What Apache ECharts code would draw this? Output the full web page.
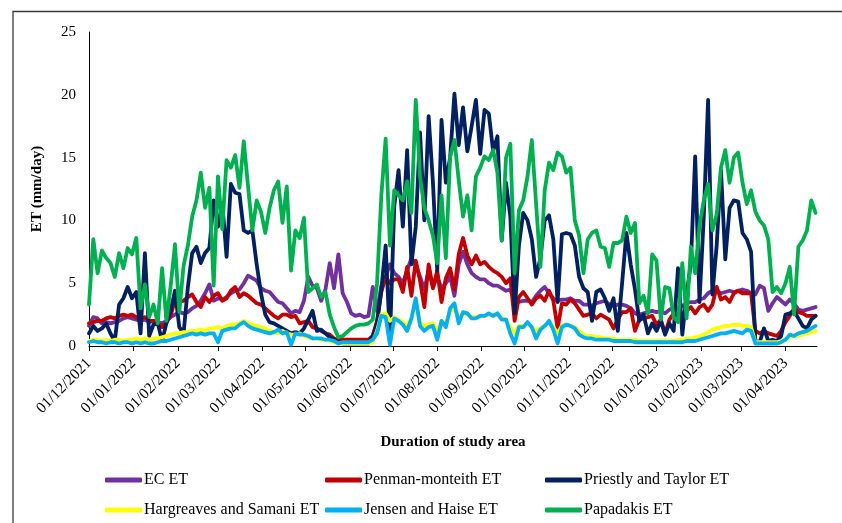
<!DOCTYPE html>
<html>
<head>
<meta charset="utf-8">
<script src="https://cdn.jsdelivr.net/npm/echarts@6/dist/echarts.min.js"></script>
<style>
  html, body { margin: 0; padding: 0; background: #fff; }
  #chart { width: 842px; height: 523px; }
</style>
</head>
<body>
<div id="chart"></div>
<script>
// Daily ET readings sampled every 3 days, starting 01/12/2021
const startDate = '2021-12-01';
const stepDays = 3;

const tickLabels = ['01/12/2021','01/01/2022','01/02/2022','01/03/2022','01/04/2022','01/05/2022',
  '01/06/2022','01/07/2022','01/08/2022','01/09/2022','01/10/2022','01/11/2022','01/12/2022',
  '01/01/2023','01/02/2023','01/03/2023','01/04/2023'];
const axisEnd = '2023-04-23';

const seriesNames = ['EC ET','Penman-monteith ET','Priestly and Taylor ET',
  'Hargreaves and Samani ET','Jensen and Haise ET','Papadakis ET'];

const ecET = [1.6,2.3,2.2,1.8,1.9,1.8,1.9,2.0,2.2,2.3,
 2.2,2.1,2.0,2.1,1.9,2.0,1.9,1.8,2.0,2.3,
 2.5,2.7,2.6,2.7,3.0,3.2,3.6,4.2,4.9,3.6,
 3.8,3.7,3.9,4.2,4.4,4.5,5.0,5.6,5.4,5.2,
 4.6,4.4,4.3,3.9,3.5,3.4,3.0,2.6,2.8,2.7,
 3.6,5.5,4.8,4.6,3.6,4.5,6.6,4.6,7.3,4.2,
 3.5,2.6,2.4,2.5,2.3,2.4,4.7,2.8,4.8,5.5,
 6.5,5.8,5.5,5.0,6.0,7.0,6.5,5.5,4.5,6.0,
 4.7,5.5,4.6,5.0,5.5,4.0,6.5,7.5,6.5,5.8,
 5.5,5.3,5.3,5.0,4.8,4.8,4.6,4.4,4.5,3.5,
 3.5,3.6,3.6,3.5,4.0,4.4,4.7,4.2,3.8,3.6,
 3.7,3.7,3.8,3.6,3.6,3.3,3.3,3.2,3.4,3.5,
 3.6,3.3,3.2,3.3,3.3,3.2,3.0,2.6,2.5,2.6,
 2.7,2.8,2.7,2.8,2.6,2.9,3.0,3.0,3.2,3.4,
 3.5,3.5,3.7,3.8,4.2,4.4,4.4,4.2,4.3,4.4,
 4.3,4.4,4.5,4.4,4.2,4.1,4.8,4.6,2.8,3.4,
 3.9,3.6,3.3,3.7,3.4,2.9,2.8,2.9,3.0,3.1];

const penmanET = [1.8,1.9,2.0,2.0,2.2,2.3,2.2,2.4,2.5,2.4,
 2.5,2.3,2.1,2.3,2.0,2.0,1.8,1.5,1.9,2.4,
 3.7,3.5,3.6,3.9,4.1,3.5,3.1,3.9,3.5,4.0,
 4.2,3.6,3.8,4.4,4.7,3.9,4.2,4.0,3.7,3.4,
 3.3,3.0,2.7,2.4,2.2,2.5,2.5,2.3,2.4,1.8,
 1.9,2.0,1.5,1.4,1.2,1.0,0.9,0.6,0.5,0.5,
 0.5,0.5,0.5,0.5,0.5,0.5,0.8,2.0,4.3,5.5,
 5.0,5.3,5.3,4.3,6.3,4.0,6.8,5.2,3.1,6.5,
 4.6,6.0,3.5,5.4,6.2,4.5,7.3,8.6,7.2,6.5,
 7.2,6.5,6.7,6.3,6.0,5.8,5.5,5.0,5.4,2.0,
 3.9,4.3,3.8,3.3,3.8,4.0,3.6,4.4,3.6,1.4,
 3.4,3.3,3.7,3.4,2.9,2.4,2.5,2.6,2.2,2.5,
 2.3,2.1,1.4,2.1,2.7,2.7,3.0,1.2,2.1,2.2,
 2.3,2.4,1.7,2.1,1.0,2.1,2.6,2.4,2.5,2.8,
 3.1,2.6,3.1,3.3,2.8,3.3,4.7,3.7,3.9,3.5,
 4.2,4.4,4.2,4.2,4.2,1.2,1.0,1.2,1.0,0.9,
 0.8,1.2,1.9,2.4,3.0,2.7,2.6,2.4,2.4,2.4];

const priestlyET = [1.0,1.6,1.2,1.4,1.8,1.0,0.4,3.3,3.8,4.7,
 3.8,4.3,1.0,7.4,0.8,1.7,1.8,0.4,1.8,2.8,
 4.4,1.5,1.0,4.7,7.4,7.9,6.6,7.4,7.8,11.6,
 9.5,11.4,7.1,12.9,12.2,12.1,9.2,9.0,9.2,6.5,
 4.2,2.5,1.9,1.8,1.6,1.4,1.2,1.0,1.1,1.0,
 1.4,2.1,2.8,1.2,1.3,1.0,0.7,0.5,0.3,0.2,
 0.2,0.2,0.2,0.2,0.2,0.2,0.8,1.8,4.5,8.0,
 0.5,11.1,14.0,9.5,15.6,6.5,9.5,17.0,10.0,18.3,
 13.0,6.0,18.0,13.0,15.0,20.1,16.0,19.0,15.5,17.5,
 19.6,15.3,18.8,18.5,15.5,16.7,8.4,13.0,10.3,2.6,
 8.0,10.6,10.0,8.5,5.5,7.0,10.0,10.4,8.5,3.5,
 8.9,9.0,8.9,8.0,5.5,4.6,4.3,2.0,4.3,4.5,
 3.8,2.8,3.8,1.2,5.0,9.0,6.5,4.5,2.0,2.5,
 1.0,1.8,1.2,2.0,0.9,1.8,1.2,6.2,0.9,4.1,
 6.6,15.1,3.5,10.3,19.6,4.1,8.0,14.0,6.9,11.0,
 11.6,11.5,9.0,8.5,7.5,0.4,0.3,1.4,0.4,0.5,
 0.4,0.8,2.5,2.6,2.8,2.2,1.6,1.4,2.1,2.4];

const hargreavesET = [0.4,0.5,0.5,0.4,0.5,0.4,0.5,0.5,0.4,0.5,
 0.5,0.6,0.5,0.6,0.5,0.6,0.6,0.7,0.8,0.9,
 1.0,1.0,1.1,1.1,1.2,1.2,1.3,1.2,1.4,1.4,
 1.5,1.4,1.6,1.7,1.7,1.8,2.0,1.8,1.7,1.6,
 1.5,1.4,1.2,1.1,1.0,1.2,1.0,0.9,0.9,1.0,
 0.8,0.7,0.6,0.6,0.5,0.5,0.4,0.3,0.2,0.2,
 0.2,0.2,0.2,0.2,0.2,0.2,0.3,1.2,2.5,2.6,
 2.0,2.3,2.1,1.9,1.6,2.2,3.2,1.9,1.6,1.7,
 1.8,1.2,2.0,1.8,2.8,3.0,2.2,2.6,2.5,2.3,
 2.3,2.4,2.4,2.5,2.4,2.5,2.2,2.1,1.5,1.0,
 1.6,1.6,1.8,1.5,1.2,1.4,1.6,1.8,1.5,1.0,
 1.6,1.7,1.6,1.5,1.2,0.9,0.8,0.8,0.7,0.7,
 0.6,0.6,0.6,0.5,0.5,0.5,0.5,0.5,0.4,0.4,
 0.4,0.4,0.4,0.4,0.4,0.4,0.4,0.5,0.5,0.6,
 0.6,0.7,0.8,0.9,1.1,1.3,1.4,1.5,1.6,1.6,
 1.7,1.7,1.6,1.6,1.5,0.3,0.3,0.3,0.3,0.3,
 0.3,0.4,0.5,0.7,0.8,0.8,0.9,1.0,1.1,1.2];

const jensenET = [0.3,0.4,0.3,0.3,0.2,0.3,0.3,0.2,0.3,0.3,
 0.2,0.3,0.2,0.3,0.2,0.2,0.3,0.4,0.4,0.5,
 0.6,0.7,0.8,0.9,1.0,0.9,1.0,0.9,1.0,1.0,
 0.3,1.2,1.3,1.4,1.4,1.7,1.9,1.6,1.4,1.3,
 1.2,1.1,1.0,1.1,1.3,1.0,1.1,0.1,1.0,0.9,
 0.9,0.8,0.6,0.6,0.6,0.5,0.5,0.4,0.2,0.3,
 0.3,0.3,0.3,0.3,0.3,0.3,0.5,1.0,2.4,2.3,
 0.1,2.2,2.0,1.7,1.2,2.2,3.8,1.6,1.2,1.5,
 1.6,0.5,2.0,1.5,3.0,3.4,1.8,2.7,2.6,2.2,
 2.2,2.4,2.4,2.6,2.4,2.6,2.1,2.1,1.0,0.2,
 1.5,1.5,1.9,1.5,0.6,1.3,1.6,2.0,1.3,0.2,
 1.5,1.7,1.6,1.4,0.9,0.7,0.6,0.6,0.5,0.5,
 0.5,0.5,0.4,0.4,0.4,0.4,0.4,0.3,0.3,0.3,
 0.3,0.3,0.3,0.3,0.3,0.3,0.3,0.3,0.3,0.4,
 0.4,0.4,0.5,0.6,0.7,0.8,0.9,1.0,1.0,1.1,
 1.2,1.1,1.0,1.3,1.2,0.2,0.2,0.2,0.2,0.2,
 0.2,0.3,0.5,0.9,0.8,1.0,1.1,1.2,1.4,1.6];

const papadakisET = [3.3,8.5,5.8,7.6,7.0,6.6,5.5,7.4,6.2,7.8,
 7.3,8.6,3.0,4.9,2.3,3.3,1.8,6.2,2.0,4.8,
 8.1,2.7,6.4,8.0,10.3,11.6,13.8,11.0,12.6,4.8,
 13.5,9.3,14.8,14.2,15.2,12.6,16.3,12.7,9.2,11.6,
 10.7,9.0,11.0,12.4,13.1,9.8,12.7,6.0,9.2,8.6,
 10.2,4.3,4.6,4.9,3.9,4.3,2.5,1.5,0.7,0.8,
 1.1,1.4,1.6,1.7,1.7,1.8,2.1,5.0,12.0,16.5,
 8.0,12.4,12.0,11.6,13.1,10.6,19.6,13.5,11.0,10.0,
 8.8,6.6,12.0,7.0,15.1,16.4,13.2,10.3,12.0,9.2,
 13.5,14.2,15.1,14.8,15.6,13.8,8.4,15.0,16.1,5.8,
 10.8,11.6,13.5,16.4,11.3,6.3,12.4,14.6,14.0,15.4,
 15.1,13.8,14.2,10.0,8.8,5.8,8.5,9.0,9.2,7.9,
 7.8,6.3,8.2,8.2,8.4,10.3,9.0,9.8,3.4,4.0,
 2.6,7.3,6.8,2.1,4.7,4.6,2.3,1.9,6.6,2.2,
 7.9,5.8,9.6,11.6,12.9,9.2,10.5,14.2,15.6,13.0,
 15.0,15.4,13.0,11.3,12.4,10.7,10.0,9.6,8.5,4.3,
 4.7,4.2,5.0,6.3,2.5,7.9,8.4,9.2,11.6,10.6];

const seriesValues = [ecET, penmanET, priestlyET, hargreavesET, jensenET, papadakisET];
const seriesColors = ['#7030A0', '#C00000', '#002060', '#FFFF00', '#00B0F0', '#00B050'];

const DAY = 86400000;
function isoToUTC(s) { const p = s.split('-').map(Number); return Date.UTC(p[0], p[1] - 1, p[2]); }
function dmyToUTC(s) { const p = s.split('/').map(Number); return Date.UTC(p[2], p[1] - 1, p[0]); }

const startUTC = isoToUTC(startDate);
const tickTimes = tickLabels.map(dmyToUTC);
const labelByTime = {};
tickLabels.forEach((l, i) => { labelByTime[tickTimes[i]] = l; });

const FONT = 'Liberation Serif';

const series = seriesNames.map((name, k) => ({
  name: name,
  type: 'line',
  showSymbol: false,
  symbol: 'none',
  animation: false,
  lineStyle: { color: seriesColors[k], width: 3.8, join: 'round', cap: 'round' },
  itemStyle: { color: seriesColors[k] },
  data: seriesValues[k].map((v, i) => [startUTC + i * stepDays * DAY, v])
}));

// Legend laid out as two rows of three columns
const legendCols = [105, 325, 545];
const legendRows = [472, 502];
const legends = seriesNames.map((name, k) => ({
  data: [name],
  left: legendCols[k % 3],
  top: legendRows[Math.floor(k / 3)],
  padding: 0,
  icon: 'roundRect',
  itemWidth: 37,
  itemHeight: 5,
  selectedMode: false,
  textStyle: { fontFamily: FONT, fontSize: 16, color: '#000', padding: [0, 0, 0, -3] }
}));

const chart = echarts.init(document.getElementById('chart'), null, { renderer: 'canvas' });
chart.setOption({
  backgroundColor: '#fff',
  animation: false,
  grid: { left: 89, right: 25, top: 32, bottom: 177, containLabel: false },
  legend: legends,
  graphic: [{
    type: 'rect',
    shape: { x: 13, y: 11.5, width: 845, height: 530 },
    style: { fill: 'none', stroke: '#3a3a3a', lineWidth: 1.3 },
    silent: true
  }],
  xAxis: {
    type: 'value',
    min: startUTC,
    max: isoToUTC(axisEnd),
    name: 'Duration of study area',
    nameLocation: 'middle',
    nameGap: 89,
    nameTextStyle: { fontFamily: FONT, fontSize: 15, fontWeight: 'bold', color: '#000' },
    axisLine: { show: true, lineStyle: { color: '#000', width: 1 } },
    axisTick: { show: true, customValues: tickTimes, length: 5, lineStyle: { color: '#000' } },
    axisLabel: {
      customValues: tickTimes,
      formatter: v => labelByTime[v] || '',
      rotate: 45,
      margin: 15,
      fontFamily: FONT,
      fontSize: 15.5,
      color: '#000'
    },
    splitLine: { show: false }
  },
  yAxis: {
    type: 'value',
    min: 0,
    max: 25,
    interval: 5,
    name: 'ET (mm/day)',
    nameLocation: 'middle',
    nameGap: 44,
    nameRotate: 90,
    nameTextStyle: { fontFamily: FONT, fontSize: 15, fontWeight: 'bold', color: '#000' },
    axisLine: { show: true, lineStyle: { color: '#000', width: 1 } },
    axisTick: { show: false },
    axisLabel: { margin: 13, fontFamily: FONT, fontSize: 15, color: '#000' },
    splitLine: { show: false }
  },
  series: series
});
</script>
</body>
</html>
